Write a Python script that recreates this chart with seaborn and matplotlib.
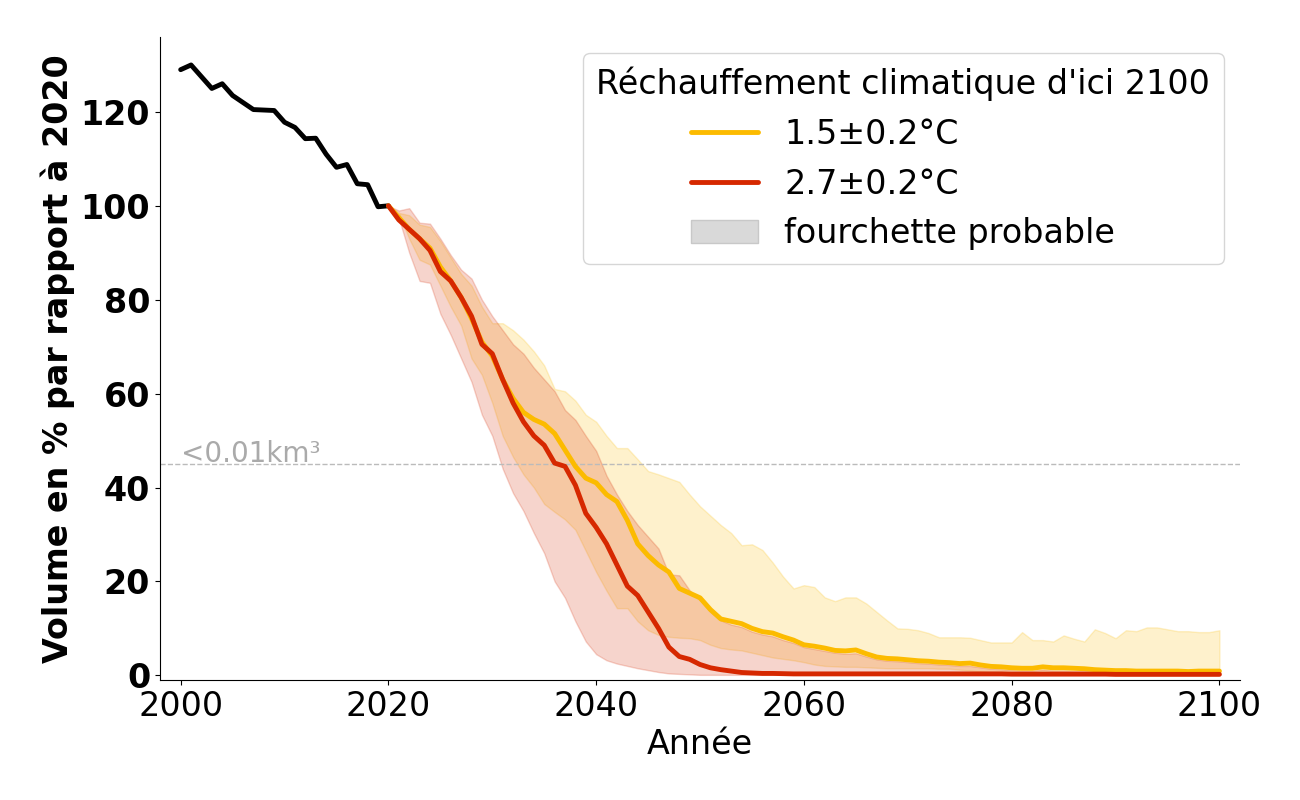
import numpy as np
import pandas as pd
import seaborn as sns
import matplotlib.pyplot as plt
from matplotlib.lines import Line2D
from matplotlib.patches import Patch

# Volume observé (2000-2020), en % par rapport à 2020
annees_hist = list(range(2000, 2021))
volume_hist = [129, 130, 127.5, 125, 126, 123.5, 122, 120.5, 120.4, 120.3, 117.8,
               116.7, 114.3, 114.4, 111, 108.2, 108.8, 104.7, 104.5, 99.8, 100]

# Projections 2020-2100
annees_proj = list(range(2020, 2101))

# Scénario 1.5±0.2°C : médiane, borne haute, borne basse
med_15 = [100, 97.5, 95, 93, 91, 87, 84, 80.5, 76, 71,
          68, 63, 59, 56, 54.5, 53.5, 51.5, 48, 44.5, 42,
          41, 38.5, 37, 33, 28, 25.5, 23.5, 22, 18.5, 17.5,
          16.5, 14, 12, 11.5, 11, 10, 9.3, 9, 8.2, 7.5,
          6.5, 6.2, 5.8, 5.3, 5.2, 5.4, 4.6, 3.9, 3.6, 3.5,
          3.3, 3.1, 3.0, 2.8, 2.7, 2.5, 2.6, 2.2, 1.9, 1.8,
          1.6, 1.5, 1.5, 1.8, 1.6, 1.6, 1.5, 1.4, 1.2, 1.1,
          1.0, 1.0, 0.9, 0.9, 0.9, 0.9, 0.9, 0.8, 0.9, 0.9,
          0.9]
haut_15 = [100, 98.5, 98, 96, 95.5, 92.5, 89, 85.5, 83, 78.5,
           75, 75, 73.5, 71.5, 69, 66, 61, 60.5, 58.5, 55.5,
           54, 51, 48.4, 48.4, 46, 43.5, 42.8, 42, 41.2, 38.5,
           36, 34, 32, 30.3, 27.7, 27.9, 26.7, 24, 21, 18.5,
           19.2, 18.8, 16.6, 15.8, 16.6, 16.6, 15.3, 13.5, 11.7, 10,
           9.9, 9.6, 9.0, 8.1, 8.1, 8.1, 8.0, 7.5, 7.0, 7.0,
           7.0, 9.2, 7.5, 7.5, 7.2, 8.5, 7.8, 7.2, 9.8, 9.0,
           7.9, 9.6, 9.4, 10.2, 10.2, 9.8, 9.4, 9.4, 9.2, 9.2,
           9.6]
bas_15 = [100, 98.5, 93, 88.5, 87.5, 83, 78.5, 74.5, 67.5, 64,
          58, 51, 46.5, 42.8, 40, 36.5, 34.8, 33.2, 31, 26.5,
          22, 18, 14.3, 14.3, 11.5, 9.6, 8.6, 8.2, 8.0, 7.9,
          7.5, 6.5, 5.8, 5.5, 5.3, 4.8, 4.3, 3.8, 3.5, 3.2,
          2.8, 2.3, 2.0, 1.9, 1.8, 1.8, 1.7, 1.6, 1.5, 1.5,
          1.5, 1.5, 1.5, 1.4, 1.4, 1.2, 1.0, 0.8, 0.6, 0.5,
          0.4, 0.4, 0.4, 0.4, 0.3, 0.3, 0.3, 0.3, 0.3, 0.3,
          0.3, 0.3, 0.3, 0.3, 0.3, 0.3, 0.3, 0.3, 0.3, 0.3,
          0.3]

# Scénario 2.7±0.2°C : médiane, borne haute, borne basse
med_27 = [100, 97, 95, 93, 90.5, 86, 84, 80.5, 76.5, 70.5,
          68.5, 63, 58, 54, 51, 49, 45.2, 44.5, 40.5, 34.5,
          31.5, 28, 23.5, 19, 17, 13.5, 10, 6, 4, 3.4,
          2.3, 1.6, 1.2, 0.9, 0.6, 0.5, 0.4, 0.4, 0.35, 0.3,
          0.3, 0.3, 0.3, 0.3, 0.3, 0.3, 0.3, 0.3, 0.3, 0.3,
          0.3, 0.3, 0.3, 0.3, 0.3, 0.3, 0.3, 0.3, 0.3, 0.3,
          0.25, 0.25, 0.25, 0.25, 0.25, 0.25, 0.25, 0.25, 0.25, 0.25,
          0.2, 0.2, 0.2, 0.2, 0.2, 0.2, 0.2, 0.2, 0.2, 0.2,
          0.2]
haut_27 = [100, 99, 99.5, 96.4, 96.2, 93, 89.5, 86.4, 84.5, 80,
           76.5, 73.5, 70.5, 68.5, 65.5, 63, 60.5, 56.5, 54.4, 51,
           47.8, 42.5, 38.5, 35, 32, 29.5, 27, 21.5, 21.3, 18.1,
           16, 13.5, 11.7, 10.8, 10.3, 9.3, 8.7, 8.3, 7.5, 6.9,
           6, 5.6, 5.2, 4.8, 4.6, 4.7, 4.0, 3.4, 3.1, 3.0,
           2.8, 2.6, 2.5, 2.3, 2.2, 2.0, 2.0, 1.7, 1.4, 1.3,
           1.1, 1.0, 1.0, 1.2, 1.0, 1.0, 0.9, 0.9, 0.8, 0.7,
           0.6, 0.6, 0.6, 0.6, 0.5, 0.5, 0.5, 0.5, 0.5, 0.5,
           0.5]
bas_27 = [100, 97.4, 90, 84, 83.6, 77, 72.5, 67.5, 62.5, 55.5,
          51, 44, 38.8, 35, 30.3, 26, 20, 16.5, 11.5, 7.2,
          4.5, 3.2, 2.5, 2.0, 1.5, 1.1, 0.7, 0.4, 0.3, 0.2,
          0.1, 0.1, 0.1, 0.1, 0.1, 0.1, 0.1, 0.1, 0.1, 0.1,
          0.1, 0.1, 0.1, 0.1, 0.1, 0.1, 0.1, 0.1, 0.1, 0.1,
          0.1, 0.1, 0.1, 0.1, 0.1, 0.1, 0.1, 0.1, 0.1, 0.1,
          0.1, 0.1, 0.1, 0.1, 0.1, 0.1, 0.1, 0.1, 0.1, 0.1,
          0.1, 0.1, 0.1, 0.1, 0.1, 0.1, 0.1, 0.1, 0.1, 0.1,
          0.1]

seuil = 45  # niveau correspondant à <0.01km³

jaune = '#fcbb00'
rouge = '#d62800'

df_hist = pd.DataFrame({'Année': annees_hist, 'Volume': volume_hist})
df_proj = pd.DataFrame({'Année': annees_proj,
                        '1.5±0.2°C': med_15,
                        '2.7±0.2°C': med_27})

sns.set_style("ticks")
plt.rcParams.update({'text.color': 'black', 'axes.labelcolor': 'black',
                     'xtick.color': 'black', 'ytick.color': 'black',
                     'axes.edgecolor': 'black'})

fig = plt.figure(figsize=(13, 8), dpi=100)
ax = fig.add_axes([0.123, 0.15, 0.831, 0.804])

# Fourchettes probables
ax.fill_between(annees_proj, bas_15, haut_15, color=jaune, alpha=0.2, linewidth=1)
ax.fill_between(annees_proj, bas_27, haut_27, color=rouge, alpha=0.2, linewidth=1)

# Seuil <0.01km³
ax.axhline(seuil, color='#bbbbbb', linestyle='--', linewidth=1)
ax.text(2000, seuil - 0.8, '<0.01km³', color='#aaaaaa', fontsize=20, va='bottom')

# Courbes
sns.lineplot(data=df_hist, x='Année', y='Volume', color='black', linewidth=3.5, ax=ax)
sns.lineplot(data=df_proj, x='Année', y='1.5±0.2°C', color=jaune, linewidth=3.5, ax=ax)
sns.lineplot(data=df_proj, x='Année', y='2.7±0.2°C', color=rouge, linewidth=3.5, ax=ax)

ax.set_xlim(1998, 2102)
ax.set_ylim(-1, 136)
ax.set_xticks([2000, 2020, 2040, 2060, 2080, 2100])
ax.set_yticks([0, 20, 40, 60, 80, 100, 120])
ax.tick_params(axis='x', labelsize=24)
ax.tick_params(axis='y', labelsize=24)
for lab in ax.get_yticklabels():
    lab.set_fontweight('bold')

ax.set_xlabel('Année', fontsize=24)
ax.set_ylabel('Volume en % par rapport à 2020', fontsize=24, fontweight='bold')
sns.despine(ax=ax)

handles = [Line2D([0], [0], color=jaune, linewidth=3.5),
           Line2D([0], [0], color=rouge, linewidth=3.5),
           Patch(facecolor='#d9d9d9', edgecolor='#c8c8c8')]
ax.legend(handles, ['1.5±0.2°C', '2.7±0.2°C', 'fourchette probable'],
          title="Réchauffement climatique d'ici 2100", fontsize=24,
          title_fontsize=24, loc='upper right', frameon=True)

plt.savefig('out.png', dpi=100)
